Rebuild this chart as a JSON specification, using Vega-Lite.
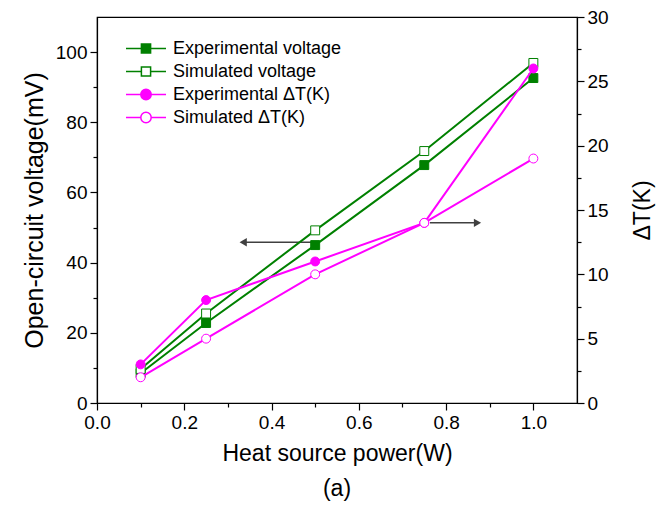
{
  "$schema": "https://vega.github.io/schema/vega-lite/v6.json",
  "width": 480,
  "height": 386,
  "autosize": "none",
  "padding": {"left": 97, "top": 17, "right": 87, "bottom": 103},
  "background": "white",
  "title": {"text": "(a)", "orient": "bottom", "anchor": "middle", "fontSize": 23, "fontWeight": "normal", "font": "Liberation Sans", "color": "#000", "offset": 13},
  "datasets": {
    "voltage": [
      {"power": 0.1, "series": "Experimental voltage", "value": 8.5},
      {"power": 0.25, "series": "Experimental voltage", "value": 22.8},
      {"power": 0.5, "series": "Experimental voltage", "value": 45.0},
      {"power": 0.75, "series": "Experimental voltage", "value": 67.8},
      {"power": 1.0, "series": "Experimental voltage", "value": 92.6},
      {"power": 0.1, "series": "Simulated voltage", "value": 9.7},
      {"power": 0.25, "series": "Simulated voltage", "value": 25.5},
      {"power": 0.5, "series": "Simulated voltage", "value": 49.2},
      {"power": 0.75, "series": "Simulated voltage", "value": 71.8},
      {"power": 1.0, "series": "Simulated voltage", "value": 96.9}
    ],
    "deltaT": [
      {"power": 0.1, "series": "Experimental ΔT(K)", "value": 3.0},
      {"power": 0.25, "series": "Experimental ΔT(K)", "value": 8.0},
      {"power": 0.5, "series": "Experimental ΔT(K)", "value": 11.0},
      {"power": 0.75, "series": "Experimental ΔT(K)", "value": 14.0},
      {"power": 1.0, "series": "Experimental ΔT(K)", "value": 26.0},
      {"power": 0.1, "series": "Simulated ΔT(K)", "value": 2.0},
      {"power": 0.25, "series": "Simulated ΔT(K)", "value": 5.0},
      {"power": 0.5, "series": "Simulated ΔT(K)", "value": 10.0},
      {"power": 0.75, "series": "Simulated ΔT(K)", "value": 14.0},
      {"power": 1.0, "series": "Simulated ΔT(K)", "value": 19.0}
    ],
    "arrows": [
      {"side": "left", "power": 0.505, "power2": 0.335, "value": 45.8},
      {"side": "right", "power": 0.763, "power2": 0.872, "value": 14.0}
    ]
  },
  "encoding": {
    "x": {
      "field": "power",
      "type": "quantitative",
      "scale": {"domain": [0, 1.1], "nice": false, "zero": false},
      "axis": {
        "title": "Heat source power(W)",
        "values": [0, 0.1, 0.2, 0.3, 0.4, 0.5, 0.6, 0.7, 0.8, 0.9, 1.0],
        "labelExpr": "round(datum.value*10) % 2 == 0 ? format(datum.value, '.1f') : ''",
        "tickSize": {"condition": {"test": "round(datum.value*10) % 2 == 1", "value": 4}, "value": 7},
        "labelFlush": false,
        "labelPadding": 3,
        "titlePadding": 10
      }
    }
  },
  "layer": [
    {
      "encoding": {
        "y": {
          "field": "value",
          "type": "quantitative",
          "scale": {"domain": [0, 110], "nice": false},
          "axis": {
            "orient": "left",
            "title": "Open-circuit voltage(mV)",
            "titleFontSize": 25,
            "values": [0, 10, 20, 30, 40, 50, 60, 70, 80, 90, 100],
            "labelExpr": "datum.value % 20 == 0 ? datum.label : ''",
            "tickSize": {"condition": {"test": "datum.value % 20 != 0", "value": 4}, "value": 7},
            "labelFlush": false,
            "titlePadding": 8
          }
        }
      },
      "layer": [
        {
          "data": {"name": "voltage"},
          "transform": [{"filter": "false"}],
          "mark": {"type": "point", "strokeWidth": 1.5, "opacity": 1},
          "encoding": {
            "stroke": {
              "field": "series", "type": "nominal",
              "scale": {"domain": ["Experimental voltage", "Simulated voltage", "Experimental ΔT(K)", "Simulated ΔT(K)"], "range": ["#008000", "#008000", "#ff00ff", "#ff00ff"]},
              "legend": {"title": null, "orient": "none", "legendX": 28, "legendY": 20, "direction": "vertical", "symbolSize": 1600, "symbolStrokeWidth": 1.5, "labelFontSize": 18, "labelFont": "Liberation Sans", "labelColor": "#000", "labelOffset": 6, "labelLimit": 400, "clipHeight": 23, "rowPadding": 0, "padding": 0}
            },
            "fill": {
              "field": "series", "type": "nominal",
              "scale": {"domain": ["Experimental voltage", "Simulated voltage", "Experimental ΔT(K)", "Simulated ΔT(K)"], "range": ["#008000", "#ffffff", "#ff00ff", "#ffffff"]}
            },
            "shape": {
              "field": "series", "type": "nominal",
              "scale": {"domain": ["Experimental voltage", "Simulated voltage", "Experimental ΔT(K)", "Simulated ΔT(K)"], "range": [
                "M-1,0H-0.23M0.23,0H1M-0.23,-0.23H0.23V0.23H-0.23Z",
                "M-1,0H-0.23M0.23,0H1M-0.23,-0.23H0.23V0.23H-0.23Z",
                "M-1,0H-0.26M0.26,0H1M-0.26,0A0.26,0.26,0,1,0,0.26,0A0.26,0.26,0,1,0,-0.26,0Z",
                "M-1,0H-0.26M0.26,0H1M-0.26,0A0.26,0.26,0,1,0,0.26,0A0.26,0.26,0,1,0,-0.26,0Z"
              ]}
            }
          }
        },
        {
          "data": {"name": "arrows"},
          "transform": [{"filter": "datum.side == 'left'"}],
          "mark": {"type": "rule", "color": "#404040", "strokeWidth": 1.5},
          "encoding": {"x2": {"field": "power2"}}
        },
        {
          "data": {"name": "arrows"},
          "transform": [{"filter": "datum.side == 'left'"}],
          "mark": {"type": "point", "shape": "triangle-left", "filled": true, "color": "#404040", "size": 70, "opacity": 1},
          "encoding": {"x": {"field": "power2", "type": "quantitative"}}
        },
        {
          "data": {"name": "voltage"},
          "mark": {"type": "line", "strokeWidth": 2},
          "encoding": {"stroke": {"field": "series", "type": "nominal"}}
        },
        {
          "data": {"name": "voltage"},
          "mark": {"type": "point", "shape": "square", "size": 80, "strokeWidth": 1, "opacity": 1},
          "encoding": {
            "stroke": {"field": "series", "type": "nominal"},
            "fill": {"field": "series", "type": "nominal"}
          }
        }
      ]
    },
    {
      "encoding": {
        "y": {
          "field": "value",
          "type": "quantitative",
          "scale": {"domain": [0, 30], "nice": false},
          "axis": {
            "orient": "right",
            "title": "ΔT(K)",
            "titleAngle": 270,
            "values": [0, 2.5, 5, 7.5, 10, 12.5, 15, 17.5, 20, 22.5, 25, 27.5, 30],
            "labelExpr": "datum.value % 5 == 0 ? datum.label : ''",
            "tickSize": {"condition": {"test": "datum.value % 5 != 0", "value": 4}, "value": 7},
            "labelFlush": false,
            "titlePadding": 46
          }
        }
      },
      "layer": [
        {
          "data": {"name": "arrows"},
          "transform": [{"filter": "datum.side == 'right'"}],
          "mark": {"type": "rule", "color": "#404040", "strokeWidth": 1.5},
          "encoding": {"x2": {"field": "power2"}}
        },
        {
          "data": {"name": "arrows"},
          "transform": [{"filter": "datum.side == 'right'"}],
          "mark": {"type": "point", "shape": "triangle-right", "filled": true, "color": "#404040", "size": 70, "opacity": 1},
          "encoding": {"x": {"field": "power2", "type": "quantitative"}}
        },
        {
          "data": {"name": "deltaT"},
          "mark": {"type": "line", "strokeWidth": 2},
          "encoding": {"stroke": {"field": "series", "type": "nominal"}}
        },
        {
          "data": {"name": "deltaT"},
          "mark": {"type": "point", "shape": "circle", "size": 80, "strokeWidth": 1, "opacity": 1},
          "encoding": {
            "stroke": {"field": "series", "type": "nominal"},
            "fill": {"field": "series", "type": "nominal"}
          }
        }
      ]
    }
  ],
  "resolve": {"scale": {"y": "independent"}},
  "config": {
    "view": {"stroke": "#000", "strokeWidth": 1.2},
    "font": "Liberation Sans",
    "axis": {"grid": false, "domainColor": "#000", "domainWidth": 1.2, "tickColor": "#000", "tickWidth": 1.2, "labelFont": "Liberation Sans", "labelFontSize": 19, "labelColor": "#000", "titleFont": "Liberation Sans", "titleFontSize": 23, "titleFontWeight": "normal", "titleColor": "#000", "labelPadding": 3}
  }
}
